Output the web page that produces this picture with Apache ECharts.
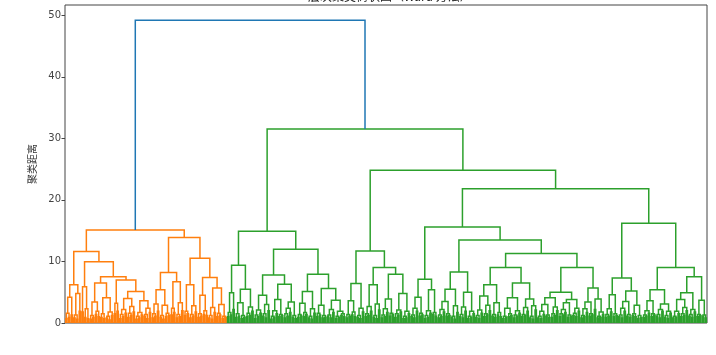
<!DOCTYPE html>
<html><head><meta charset="utf-8">
<script src="https://cdn.jsdelivr.net/npm/echarts@6/dist/echarts.min.js"></script>
<style>html,body{margin:0;padding:0;background:#fff}#c{width:716px;height:355px}</style>
</head><body><div id="c"></div><script>
// ---- data: title / axis text ----
const titleText = "层次聚类树状图（Ward 方法）";
const yAxisName = "聚类距离";
const yTicks = [0, 10, 20, 30, 40, 50];

// ---- data: low-level clusters, "(left,right)height"; "xH" = two samples merged at height H ----
const leafClusters = [
  ["A1",     "(((x.7,x.9)1.6,x1.3)4.2,((x.8,x.6)1.3,x1.9)4.8)6.2"],
  ["A2a",    "(x1.8,(x.9,x.7)2.3)5.9"],
  ["A2bL",   "(((x.6,x.9)1.2,(x1.4,x1.0)1.9)3.4,((x.9,x.7)1.5,((x.8,x.5)1.1,x1.2)1.8)4.1)6.5"],
  ["A2bRL",  "(x1.5,x1.9)3.2"],
  ["A2bRR",  "((((x.7,x1.0)1.4,x1.6)2.2,((x.9,x1.2)1.6,x1.8)2.7)4.0,(((x.6,x.8)1.1,x1.3)1.7,((x1.1,x.7)1.4,x1.7)2.4)3.6)5.1"],
  ["B1L",    "(((x.8,x1.1)1.5,x1.9)3.1,((x.9,x.6)1.2,(x1.0,x1.2)1.6)2.9)5.4"],
  ["B1R",    "((x1.3,x1.7)2.4,((x.8,x1.0)1.4,x2.0)3.3)6.7"],
  ["B2a",    "((x1.2,x1.5)1.9,((x.8,x1.1)1.4,x1.8)2.8)6.2"],
  ["B2bL",   "((x.9,x1.1)1.5,(x1.4,x1.2)2.0)4.5"],
  ["B2bR",   "(((x.8,x.6)1.2,x1.7)2.5,((x1.0,x1.3)1.6,(x.7,x.9)1.1)3.0)5.7"],
  ["GL1L",   "((x1.0,x1.3)1.7,x2.2)4.9"],
  ["GL1R",   "(((x.9,x1.1)1.5,(x.7,x.9)1.2)3.3,((x1.0,x1.2)1.6,x1.9)2.6)5.5"],
  ["GL2LL",  "(((x.7,x1.0)1.3,x1.6)2.1,((x1.1,x.8)1.5,x2.0)3.0)4.5"],
  ["GL2LR",  "((((x.6,x.9)1.1,x1.5)2.0,(x1.0,x1.2)1.4)3.8,(((x.8,x1.1)1.5,x1.7)2.4,(x.9,x.7)1.2)3.4)6.3"],
  ["GL2RL",  "(((x.9,x1.2)1.4,(x1.0,x1.4)1.7)3.2,((x.8,x.6)1.1,x1.6)2.3)5.1"],
  ["GL2RR",  "(((x1.0,x1.3)1.6,(x.8,x.9)1.2)2.9,(((x1.1,x.8)1.3,x1.7)2.2,((x.7,x.9)1.1,(x1.2,x1.0)1.5)1.9)3.7)5.6"],
  ["GR1L",   "(((x.8,x1.1)1.4,(x1.3,x1.0)1.8)3.6,((x.9,x.7)1.2,x1.8)2.4)6.4"],
  ["GR1RL",  "(((x1.0,x1.2)1.5,x1.9)2.7,((x.9,x.7)1.2,x2.1)3.1)6.2"],
  ["GR1RR",  "((((x.8,x1.0)1.3,x1.7)2.3,(x1.1,x1.4)1.6)3.9,(((x.9,x1.2)1.5,x1.8)2.1,((x.7,x.8)1.1,x1.5)1.9)4.8)7.9"],
  ["GR2LL",  "((((x1.0,x.8)1.3,x1.9)2.4,(x1.1,x1.3)1.6)4.2,(((x.7,x.9)1.2,x1.6)2.0,(x1.4,x1.1)1.7)5.4)7.1"],
  ["GaL",    "((((x.8,x1.0)1.3,x1.8)2.2,(x1.1,x1.2)1.5)3.5,((x.9,x.6)1.1,x1.7)2.8)5.5"],
  ["GaR",    "(((x1.0,x.8)1.4,x1.9)2.6,((x.7,x.9)1.1,x1.5)1.9)5.0"],
  ["Gb1L",   "((((x.9,x.7)1.2,x1.6)2.1,((x1.0,x1.3)1.5,x2.0)2.9)4.4,((x1.1,x.9)1.4,(x1.3,x1.0)1.7)3.3)6.2"],
  ["Gb1R",   "((((x.7,x.9)1.1,(x1.0,x1.2)1.5)2.4,((x.8,x1.1)1.3,x1.6)2.0)4.1,(((x1.0,x1.2)1.4,x1.9)2.5,((x.8,x.6)1.1,x2.1)2.8)3.9)6.5"],
  ["Gb2L",   "(((((x.8,x.7)1.1,x1.4)1.9,(x1.1,x.9)1.3)3.0,((x.9,x1.2)1.5,x2.0)2.6)4.1,((((x1.0,x1.3)1.5,x1.7)2.2,(x.9,x1.1)1.3)3.3,((x1.2,x1.0)1.6,x1.9)2.4)3.8)5.0"],
  ["Gb2R",   "((((x.8,x1.0)1.2,x1.7)2.3,(x1.1,x1.3)1.5)3.4,(x2.2,((x.8,x.9)1.1,x1.4)1.8)3.9)5.7"],
  ["GR2RLa", "(((x.9,x1.1)1.4,x1.8)2.3,(x1.0,x1.2)1.5)4.6"],
  ["GR2RLb", "((((x1.0,x.8)1.3,x1.9)2.4,(x1.1,x.9)1.4)3.5,((x1.2,x1.0)1.5,(x.7,x.9)1.2)2.9)5.2"],
  ["GR2RRL", "((((x.9,x1.1)1.3,x1.6)2.0,(x1.0,x1.3)1.5)3.6,(((x1.1,x.8)1.4,x1.9)2.2,((x.9,x.7)1.2,x1.6)1.9)3.1)5.4"],
  ["GR2RRRa","((((x.8,x.9)1.1,x1.5)1.9,((x1.0,x1.2)1.5,x2.0)2.5)3.8,((x1.1,x.9)1.4,x1.8)2.2)4.9"],
  ["GR2RRRb","((x1.0,x1.2)1.4,(x1.1,x.8)1.3)3.7"]
];

// ---- data: upper merges [name, left, right, height] ----
const merges = [
  ["A2bR", "A2bRL", "A2bRR", 7.0],
  ["A2b", "A2bL", "A2bR", 7.5],
  ["A2", "A2a", "A2b", 9.95],
  ["A", "A1", "A2", 11.6],
  ["B1", "B1L", "B1R", 8.2],
  ["B2b", "B2bL", "B2bR", 7.4],
  ["B2", "B2a", "B2b", 10.5],
  ["B", "B1", "B2", 13.9],
  ["orange", "A", "B", 15.1],
  ["GL1", "GL1L", "GL1R", 9.4],
  ["GL2L", "GL2LL", "GL2LR", 7.8],
  ["GL2R", "GL2RL", "GL2RR", 7.9],
  ["GL2", "GL2L", "GL2R", 12.0],
  ["GL", "GL1", "GL2", 14.9],
  ["GR1R", "GR1RL", "GR1RR", 9.0],
  ["GR1", "GR1L", "GR1R", 11.7],
  ["Ga", "GaL", "GaR", 8.3],
  ["Gb1", "Gb1L", "Gb1R", 9.0],
  ["Gb2", "Gb2L", "Gb2R", 9.0],
  ["Gb", "Gb1", "Gb2", 11.3],
  ["GR2LR", "Ga", "Gb", 13.5],
  ["GR2L", "GR2LL", "GR2LR", 15.6],
  ["GR2RL", "GR2RLa", "GR2RLb", 7.3],
  ["GR2RRR", "GR2RRRa", "GR2RRRb", 7.5],
  ["GR2RR", "GR2RRL", "GR2RRR", 9.0],
  ["GR2R", "GR2RL", "GR2RR", 16.2],
  ["GR2", "GR2L", "GR2R", 21.8],
  ["GR", "GR1", "GR2", 24.8],
  ["green", "GL", "GR", 31.5],
  ["root", "orange", "green", 49.2]
];

const clusterColors = ["#ff7f0e", "#2ca02c"];
const aboveColor = "#1f77b4";

// ---- build tree ----
function parse(s) {
  let i = 0;
  function num() {
    const j = i; while (i < s.length && /[0-9.]/.test(s[i])) i++;
    return i > j ? parseFloat(s.slice(j, i)) : null;
  }
  function rd() {
    if (s[i] === 'x') {
      i++; const h = num();
      if (h === null) return { leaf: true };
      return { l: { leaf: true }, r: { leaf: true }, h };
    }
    i++; const l = rd(); i++; const r = rd(); i++;
    return { l, r, h: num() };
  }
  return rd();
}
const nodes = {};
leafClusters.forEach(([n, s]) => nodes[n] = parse(s));
merges.forEach(([n, a, b, h]) => nodes[n] = { l: nodes[a], r: nodes[b], h });
const root = nodes[merges[merges.length - 1][0]];
let k = 0;
function place(n) {
  if (n.leaf) { n.x = 5 + 10 * k++; n.h = 0; return; }
  place(n.l); place(n.r); n.x = (n.l.x + n.r.x) / 2;
}
place(root);
const N = k;
let maxH = 0;
(function mh(n) { if (!n.leaf) { maxH = Math.max(maxH, n.h); mh(n.l); mh(n.r); } })(root);
const thr = 0.7 * maxH;
const segs = { above: [], c0: [], c1: [], c2: [] };
let ci = -1;
function walk(n, pc) {
  if (n.leaf) return;
  let c;
  if (n.h >= thr) c = 'above';
  else if (pc === 'above') { ci++; c = 'c' + ci; }
  else c = pc;
  segs[c].push([[n.l.x, n.l.h], [n.l.x, n.h], [n.r.x, n.h], [n.r.x, n.r.h]]);
  walk(n.l, c); walk(n.r, c);
}
walk(root, 'above');

function mk(list, color) {
  return {
    type: 'lines', coordinateSystem: 'cartesian2d', polyline: true, silent: true,
    data: list.map(c => ({ coords: c })),
    lineStyle: { color, width: 1.5, opacity: 1 }
  };
}

const chart = echarts.init(document.getElementById('c'));
chart.setOption({
  animation: false,
  backgroundColor: '#fff',
  title: {
    text: titleText, left: 303, top: -15,
    textStyle: { fontSize: 12, fontWeight: 'normal', color: '#222', fontFamily: 'Noto Sans CJK SC' }
  },
  grid: { left: 65, right: 9, top: 5, bottom: 32, show: true, borderColor: '#444', borderWidth: 1 },
  xAxis: {
    type: 'value', min: 0, max: 10 * N,
    axisLine: { show: false }, axisTick: { show: false }, axisLabel: { show: false }, splitLine: { show: false }
  },
  yAxis: {
    type: 'value', min: 0, max: maxH * 1.05,
    name: yAxisName, nameLocation: 'middle', nameGap: 19,
    nameTextStyle: { fontSize: 10, color: '#333', fontFamily: 'Noto Sans CJK SC' },
    axisLine: { show: false },
    axisTick: { show: true, length: 3.5, customValues: yTicks, lineStyle: { color: '#444' } },
    axisLabel: { fontSize: 10, color: '#444', margin: 4, customValues: yTicks, fontFamily: 'DejaVu Sans' },
    splitLine: { show: false }
  },
  series: [mk(segs.c0, clusterColors[0]), mk(segs.c1, clusterColors[1]), mk(segs.above, aboveColor)]
});
</script></body></html>
